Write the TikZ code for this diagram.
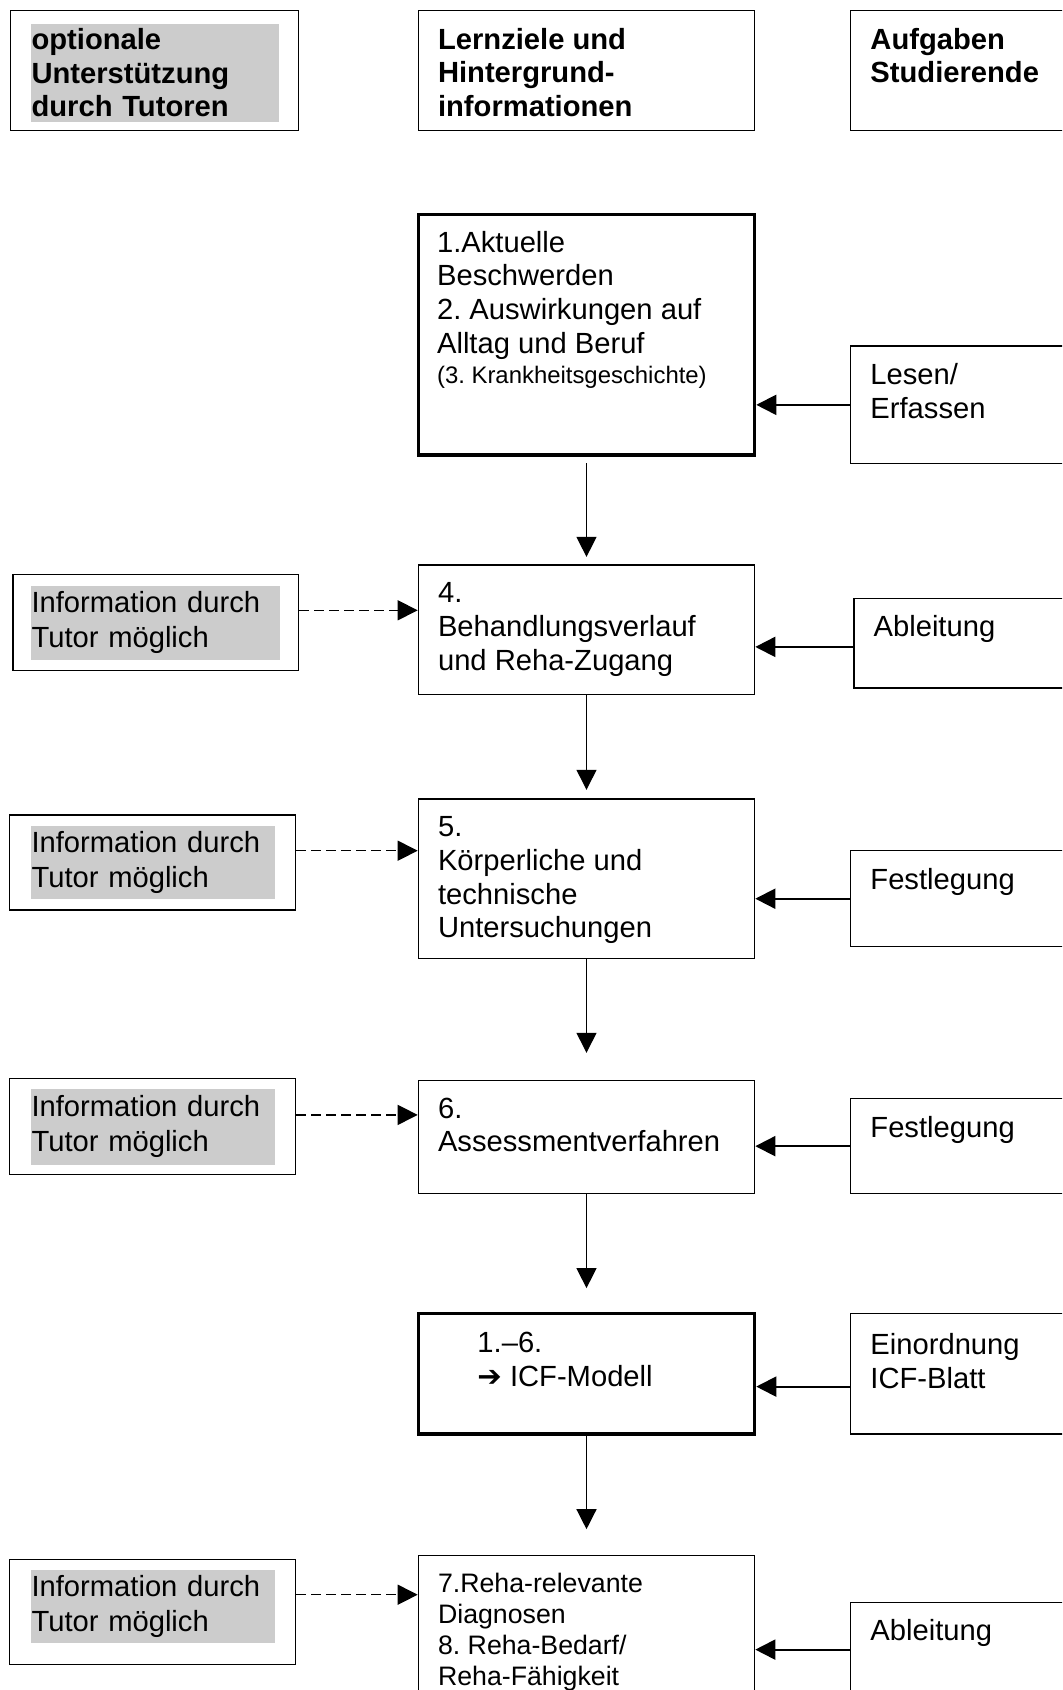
\documentclass[tikz,border=0pt]{standalone}
\usepackage{fontspec}
\setmainfont{Liberation Sans}
\newfontfamily\dingfont{DejaVu Sans}
\usetikzlibrary{arrows.meta}
\frenchspacing

\begin{document}
\begin{tikzpicture}[x=1cm, y=-1cm,
	frame/.style = {draw, line width=0.7pt, inner sep=0pt},
	mainbox/.style = {frame, minimum width=6.728cm},
	thickbox/.style = {mainbox, line width=1.8pt},
	taskbox/.style = {frame, minimum width=4.5cm},
	tutorbox/.style = {frame, minimum width=5.714cm},
	shade/.style = {fill=black!20, inner xsep=0.02cm, inner ysep=0pt, align=left, anchor=west, text width=4.85cm, minimum height=1.47cm, font=\fontsize{16.6}{19.7}\selectfont},
	boxtext/.style = {anchor=north west, inner sep=0pt, align=left, font=\fontsize{16.6}{19.3}\selectfont},
	headtext/.style = {boxtext, font=\fontsize{16.6}{19.1}\selectfont\bfseries},
	flow/.style = {-{Triangle[length=0.4cm, width=0.4cm]}, line width=0.75pt},
	feed/.style = {flow, line width=1.1pt},
	hint/.style = {flow, line width=0.85pt, dash pattern=on 0.2cm off 0.1cm}
	]
	
	\useasboundingbox (0,0) rectangle (21.24,33.8);
	\clip (0,0) rectangle (21.24,33.8);
	
	% column heads
	\node[frame, minimum width=5.758cm, minimum height=2.394cm] (hL) at (3.095,1.413) {};
	\node[shade, text width=4.92cm, minimum height=1.962cm, font=\fontsize{16.6}{19.1}\selectfont\bfseries] (hL-s) at (0.604,1.46) {optionale\\Unterstützung\\durch Tutoren};
	\node[mainbox, minimum height=2.394cm] (hM) at (11.73,1.413) {};
	\node[headtext] (hM-t) at ([shift={(0.4,0.35)}]hM.north west) {Lernziele und\\Hintergrund-\\informationen};
	\node[taskbox, minimum height=2.394cm] (hR) at (19.264,1.413) {};
	\node[headtext] (hR-t) at ([shift={(0.4,0.35)}]hR.north west) {Aufgaben\\Studierende};
	
	% middle column
	\node[thickbox, minimum height=4.808cm] (b1) at (11.73,6.696) {};
	\node[boxtext] (b1-t) at ([shift={(0.4,0.35)}]b1.north west) {1.Aktuelle\\Beschwerden\\2. Auswirkungen auf\\Alltag und Beruf\\[-2.1pt]{\fontsize{13.6}{17.2}\selectfont (3. Krankheitsgeschichte)}};
	
	\node[mainbox, minimum height=2.588cm] (b2) at (11.73,12.594) {};
	\node[boxtext] (b2-t) at ([shift={(0.4,0.35)}]b2.north west) {4.\\Behandlungsverlauf\\und Reha-Zugang};
	
	\node[mainbox, minimum height=3.192cm] (b3) at (11.73,17.574) {};
	\node[boxtext] (b3-t) at ([shift={(0.4,0.35)}]b3.north west) {5.\\Körperliche und\\technische\\Untersuchungen};
	
	\node[mainbox, minimum height=2.264cm] (b4) at (11.73,22.74) {};
	\node[boxtext] (b4-t) at ([shift={(0.4,0.35)}]b4.north west) {6.\\Assessmentverfahren};
	
	\node[thickbox, minimum height=2.416cm] (b5) at (11.73,27.472) {};
	\node[boxtext] (b5-t) at ([shift={(1.208,0.4)}]b5.north west) {1.–6.\\{\dingfont\bfseries ➔} ICF-Modell};
	
	\node[mainbox, minimum height=3cm] (b6) at (11.73,32.616) {};
	\node[boxtext, font=\fontsize{15.2}{17.6}\selectfont] (b6-t) at ([shift={(0.4,0.35)}]b6.north west) {7.Reha-relevante\\Diagnosen\\8. Reha-Bedarf/\\Reha-Fähigkeit};
	
	% tasks of the students
	\node[taskbox, minimum height=2.35cm] (r1) at (19.264,8.097) {};
	\node[boxtext] (r1-t) at ([shift={(0.4,0.35)}]r1.north west) {Lesen/\\Erfassen};
	\node[taskbox, minimum height=1.79cm] (r2) at (19.328,12.863) {};
	\node[boxtext] (r2-t) at ([shift={(0.4,0.35)}]r2.north west) {Ableitung};
	\node[taskbox, minimum height=1.92cm] (r3) at (19.264,17.974) {};
	\node[boxtext] (r3-t) at ([shift={(0.4,0.35)}]r3.north west) {Festlegung};
	\node[taskbox, minimum height=1.898cm] (r4) at (19.264,22.923) {};
	\node[boxtext] (r4-t) at ([shift={(0.4,0.35)}]r4.north west) {Festlegung};
	\node[taskbox, minimum height=2.416cm] (r5) at (19.264,27.472) {};
	\node[boxtext] (r5-t) at ([shift={(0.4,0.4)}]r5.north west) {Einordnung\\ICF-Blatt};
	\node[taskbox, minimum height=1.896cm] (r6) at (19.264,32.992) {};
	\node[boxtext] (r6-t) at ([shift={(0.4,0.35)}]r6.north west) {Ableitung};
	
	% tutor hints
	\node[tutorbox, minimum width=5.716cm, minimum height=1.918cm] (i2) at (3.116,12.453) {};
	\node[shade, text width=4.94cm, minimum height=1.488cm] (i2-s) at (0.604,12.454) {Information durch\\Tutor möglich};
	\node[tutorbox, minimum height=1.898cm] (i3) at (3.051,17.251) {};
	\node[shade] (i3-s) at (0.604,17.251) {Information durch\\Tutor möglich};
	\node[tutorbox, minimum height=1.92cm] (i4) at (3.051,22.524) {};
	\node[shade, minimum height=1.51cm] (i4-s) at (0.604,22.535) {Information durch\\Tutor möglich};
	\node[tutorbox, minimum height=2.112cm] (i6) at (3.051,32.238) {};
	\node[shade] (i6-s) at (0.604,32.131) {Information durch\\Tutor möglich};
	
	% flow downwards
	\draw[flow, shorten <=0.13cm, shorten >=0.15cm] (b1) -- (b2);
	\draw[flow, shorten >=0.17cm] (b2) -- (b3);
	\draw[flow, shorten >=0.54cm] (b3) -- (b4);
	\draw[flow, shorten >=0.47cm] (b4) -- (b5);
	\draw[flow, shorten >=0.52cm] (b5) -- (b6);
	
	% from the tasks
	\draw[feed] (r1.west) -- (b1.east |- r1.west);
	\draw[feed] ([yshift=-0.075cm]r2.west) coordinate (f2) -- (b2.east |- f2);
	\draw[feed] (r3.west) -- (b3.east |- r3.west);
	\draw[feed] (r4.west) -- (b4.east |- r4.west);
	\draw[feed] ([yshift=-0.26cm]r5.west) coordinate (f5) -- (b5.east |- f5);
	\draw[feed] (r6.west) -- (b6.east |- r6.west);
	
	% from the tutors
	\draw[hint] ([yshift=0.247cm]i2.east) coordinate (d2) -- (b2.west |- d2);
	\draw[hint] ([yshift=0.237cm]i3.east) coordinate (d3) -- (b3.west |- d3);
	\draw[hint] ([yshift=0.226cm]i4.east) coordinate (d4) -- (b4.west |- d4);
	\draw[hint] ([yshift=0.344cm]i6.east) coordinate (d6) -- (b6.west |- d6);
	
\end{tikzpicture}
\end{document}
